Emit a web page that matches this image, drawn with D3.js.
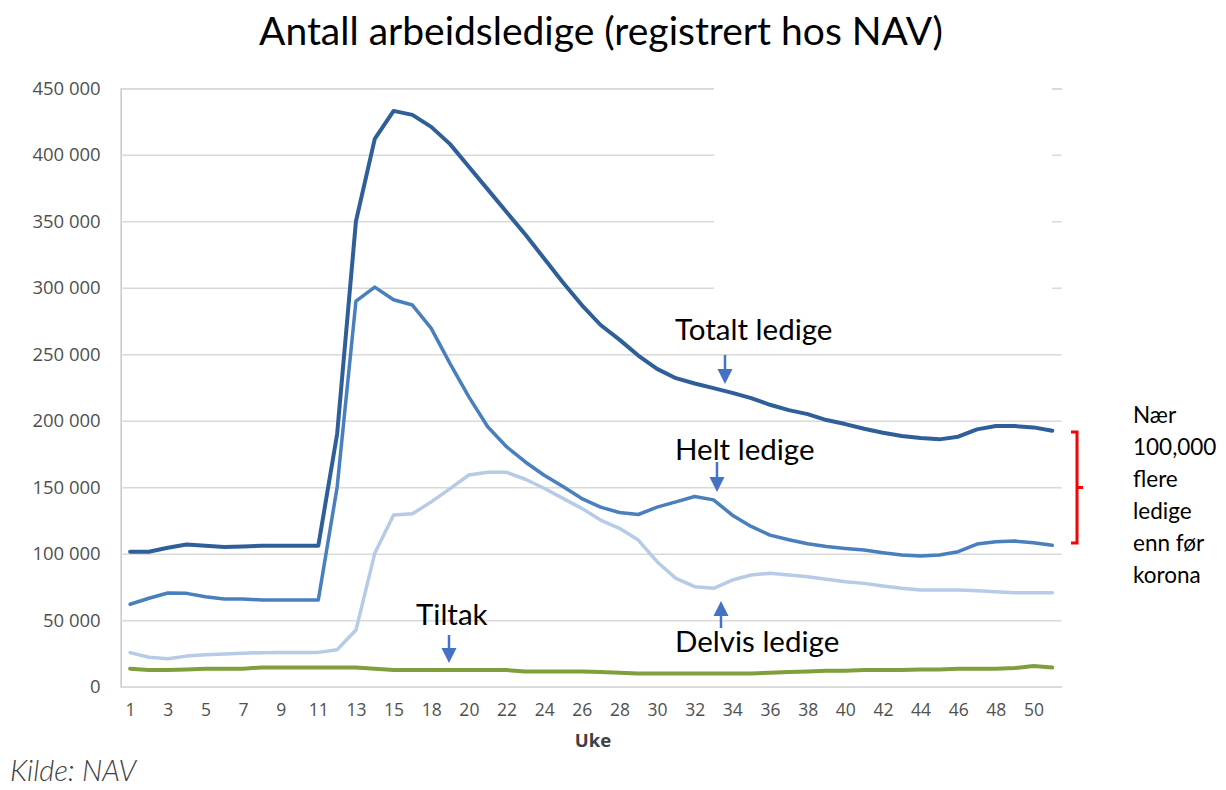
<!DOCTYPE html>
<html>
<head>
<meta charset="utf-8">
<script src="https://cdn.jsdelivr.net/npm/d3@7"></script>
<style>
  body { margin: 0; background: #fff; }
  svg { display: block; font-family: Lato, 'Open Sans', sans-serif; }
</style>
</head>
<body>
<svg id="chart" width="1226" height="790"></svg>
<script>
// Week numbers (one week is missing between 15 and 18 in the source)
const weeks = [1, 2, 3, 4, 5, 6, 7, 8, 9, 10, 11, 12, 13, 14, 15, 17, 18, 19, 20, 21,
  22, 23, 24, 25, 26, 27, 28, 29, 30, 31, 32, 33, 34, 35, 36, 37, 38, 39, 40, 41,
  42, 43, 44, 45, 46, 47, 48, 49, 50, 51];

const totalt = [101500, 101500, 104500, 107000, 106000, 105000, 105500, 106000, 106000, 106000, 106000,
  190000, 350000, 412000, 433000, 430000, 421000, 408000, 391000, 374000, 357000,
  340000, 322000, 304000, 287000, 272000, 261000, 249000, 239000, 232000, 228000,
  224500, 221000, 217000, 212000, 208000, 205000, 200500, 197500, 194000, 191000,
  188500, 187000, 186000, 188000, 193500, 196000, 196000, 195000, 192500];

const helt = [62000, 66500, 70500, 70200, 67700, 66000, 66000, 65200, 65200, 65200, 65200,
  150000, 290000, 300500, 291000, 287000, 269500, 243000, 218000, 195500, 180500,
  169000, 159000, 150500, 141500, 135000, 131000, 129500, 135000, 139000, 143000,
  140500, 129000, 120500, 114000, 110500, 107500, 105500, 104000, 102800, 100800,
  99000, 98300, 99000, 101500, 107300, 109000, 109500, 108300, 106300];

const delvis = [25600, 22100, 21000, 23000, 24000, 24500, 25100, 25600, 25800, 25800, 25800,
  27800, 42600, 100300, 129100, 130000, 139000, 149000, 159200, 161300, 161300,
  156000, 149200, 141600, 134100, 125300, 119100, 110300, 94000, 81500, 75200,
  74000, 80200, 84000, 85300, 84000, 82700, 80800, 79000, 77700, 75700,
  74000, 72700, 72700, 72700, 72200, 71400, 70700, 70700, 70700];

const tiltak = [13500, 12500, 12500, 13000, 13500, 13500, 13500, 14500, 14500, 14500, 14500,
  14500, 14500, 13500, 12500, 12500, 12500, 12500, 12500, 12500, 12500,
  11500, 11500, 11500, 11500, 11000, 10500, 10000, 10000, 10000, 10000,
  10000, 10000, 10000, 10500, 11000, 11500, 12000, 12000, 12500, 12500,
  12500, 13000, 13000, 13500, 13500, 13500, 14000, 15500, 14500];

const yTicks = [0, 50000, 100000, 150000, 200000, 250000, 300000, 350000, 400000, 450000];

const series = [
  { name: 'Tiltak', values: tiltak, color: '#7f9f3c', width: 4 },
  { name: 'Delvis ledige', values: delvis, color: '#b6cbe6', width: 3.5 },
  { name: 'Helt ledige', values: helt, color: '#4a7fbe', width: 3.5 },
  { name: 'Totalt ledige', values: totalt, color: '#2f5f99', width: 4 },
];

const noteLines = ['Nær', '100,000', 'flere', 'ledige', 'enn før', 'korona'];

const svg = d3.select('#chart');
const plotLeft = 120.7, plotRight = 1061.7, plotTop = 88.3, plotBottom = 686.7;

const x = d3.scalePoint().domain(weeks).range([plotLeft, plotRight]).padding(0.5);
const y = d3.scaleLinear().domain([0, 450000]).range([plotBottom, plotTop]);

const nb = d3.formatLocale({ decimal: ',', thousands: '\u00a0', grouping: [3], currency: ['', ''] });
const fmt = nb.format(',d');

// Title
svg.append('text')
  .attr('x', 601).attr('y', 45)
  .attr('text-anchor', 'middle')
  .attr('font-size', 39)
  .attr('fill', '#000')
  .text('Antall arbeidsledige (registrert hos NAV)');

// Gridlines + y labels
const yAxis = svg.append('g')
  .attr('transform', `translate(${plotLeft},0)`)
  .call(d3.axisLeft(y).tickValues(yTicks).tickFormat(fmt).tickSize(-(plotRight - plotLeft)).tickPadding(20));
yAxis.select('.domain').attr('stroke', '#c8c8c8').attr('stroke-width', 1.5);
yAxis.selectAll('.tick line').attr('stroke', '#d9d9d9').attr('stroke-width', 1.5);
yAxis.selectAll('.tick text')
  .attr('fill', '#505050')
  .attr('font-family', "'Open Sans', sans-serif")
  .attr('font-size', 18.5);

// The source picture has a white patch over the upper right grid
svg.append('rect')
  .attr('x', 714).attr('y', 82)
  .attr('width', 338).attr('height', 213)
  .attr('fill', '#fff');

// x labels (every second week)
const xAxis = svg.append('g')
  .attr('transform', `translate(0,${plotBottom})`)
  .call(d3.axisBottom(x).tickValues(weeks.filter((d, i) => i % 2 === 0)).tickSize(0).tickPadding(17));
xAxis.select('.domain').remove();
xAxis.selectAll('.tick text')
  .attr('fill', '#505050')
  .attr('font-family', "'Open Sans', sans-serif")
  .attr('font-size', 17.5);

svg.append('text')
  .attr('x', 593).attr('y', 747)
  .attr('text-anchor', 'middle')
  .attr('font-family', "'Open Sans', sans-serif")
  .attr('font-weight', 'bold')
  .attr('font-size', 18.5)
  .attr('fill', '#404040')
  .text('Uke');

// Lines
const line = d3.line()
  .x((d, i) => x(weeks[i]))
  .y(d => y(d));

svg.append('g')
  .selectAll('path')
  .data(series)
  .join('path')
  .attr('fill', 'none')
  .attr('stroke', d => d.color)
  .attr('stroke-width', d => d.width)
  .attr('stroke-linejoin', 'round')
  .attr('stroke-linecap', 'round')
  .attr('d', d => line(d.values));

// Annotations with arrows
const notes = [
  { text: 'Totalt ledige', tx: 675, ty: 340, ax: 725, ay0: 355, ay1: 384 },
  { text: 'Helt ledige', tx: 675, ty: 460, ax: 717, ay0: 462, ay1: 492 },
  { text: 'Tiltak', tx: 416, ty: 625, ax: 449, ay0: 635, ay1: 663 },
  { text: 'Delvis ledige', tx: 675, ty: 652, ax: 721, ay0: 628, ay1: 601 },
];

const ann = svg.append('g');
ann.selectAll('text')
  .data(notes)
  .join('text')
  .attr('x', d => d.tx).attr('y', d => d.ty)
  .attr('font-size', 29.5)
  .attr('fill', '#000')
  .text(d => d.text);

ann.selectAll('line')
  .data(notes)
  .join('line')
  .attr('x1', d => d.ax).attr('x2', d => d.ax)
  .attr('y1', d => d.ay0)
  .attr('y2', d => d.ay1 - Math.sign(d.ay1 - d.ay0) * 10)
  .attr('stroke', '#4472c4')
  .attr('stroke-width', 2.5);

ann.selectAll('path')
  .data(notes)
  .join('path')
  .attr('fill', '#4472c4')
  .attr('d', d => {
    const s = Math.sign(d.ay1 - d.ay0);
    return `M${d.ax - 7.5},${d.ay1 - s * 15}L${d.ax + 7.5},${d.ay1 - s * 15}L${d.ax},${d.ay1}Z`;
  });

// Red bracket + side note
svg.append('path')
  .attr('fill', 'none')
  .attr('stroke', '#ff0000')
  .attr('stroke-width', 3)
  .attr('d', 'M1071,432H1077V543H1071M1077,487.5H1083');

svg.append('g')
  .selectAll('text')
  .data(noteLines)
  .join('text')
  .attr('x', 1133)
  .attr('y', (d, i) => 423 + i * 32)
  .attr('font-size', 22.5)
  .attr('fill', '#000')
  .text(d => d);

// Source
svg.append('text')
  .attr('x', 10).attr('y', 781)
  .attr('font-size', 29)
  .attr('font-style', 'italic')
  .attr('font-weight', 300)
  .attr('fill', '#404040')
  .text('Kilde: NAV');
</script>
</body>
</html>
